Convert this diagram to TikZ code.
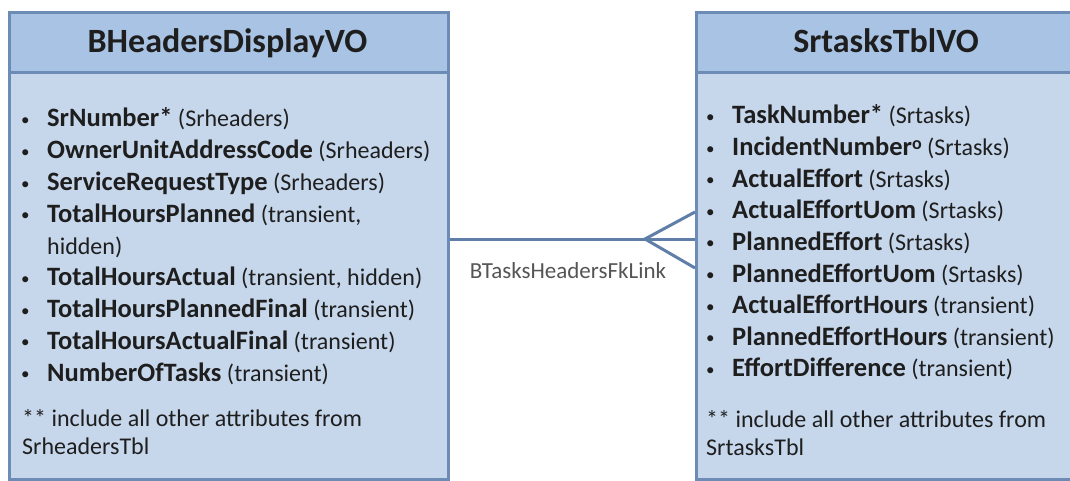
\documentclass[tikz,border=0pt]{standalone}
\usepackage{fontspec}
\setmainfont{Carlito}
\definecolor{headfill}{HTML}{A8C3E3}
\definecolor{bodyfill}{HTML}{C6D7EC}
\definecolor{boxline}{HTML}{6C8CB5}
\definecolor{connline}{HTML}{5F7FA8}
\definecolor{txt}{HTML}{1E1E1E}
\definecolor{lbltxt}{HTML}{555555}
\newcommand{\Bf}[1]{{\fontsize{26.5}{30}\selectfont\bfseries #1}}
\newcommand{\bulL}{\makebox[26pt][l]{\raisebox{1.5pt}{\fontsize{17}{17}\selectfont•}}}
\newcommand{\bulR}{\makebox[26pt][l]{\raisebox{1.5pt}{\fontsize{17}{17}\selectfont•}}}
\begin{document}
\begin{tikzpicture}[x=1pt,y=-1pt,
  entbody/.style={draw=boxline, line width=3pt, fill=bodyfill, inner sep=0, anchor=north west},
  enthead/.style={draw=boxline, line width=3pt, fill=headfill, inner sep=0, anchor=north west},
  title/.style={anchor=base, inner sep=0, font=\fontsize{34}{36}\selectfont\bfseries, text=txt},
  row/.style={anchor=base west, inner sep=0, font=\fontsize{24}{28}\selectfont, text=txt},
  conn/.style={draw=connline, line width=3pt},
  lbl/.style={inner sep=0, font=\fontsize{23}{26}\selectfont, text=lbltxt}]
\useasboundingbox (0,0) rectangle (1070,481);
\fill[white] (0,0) rectangle (1070,481);
% left entity
\node[entbody, minimum width=439pt, minimum height=467pt] (lbox) at (8,11) {};
\node[enthead, minimum width=439pt, minimum height=60pt] (lhead) at (8,11) {};
\node[title] (ltitle) at (227.5,52.5) {BHeadersDisplayVO};
\node[row] (l1) at (21,127) {\bulL\Bf{SrNumber*} (Srheaders)};
\node[row] (l2) at (21,158.75) {\bulL\Bf{OwnerUnitAddressCode} (Srheaders)};
\node[row] (l3) at (21,190.5) {\bulL\Bf{ServiceRequestType} (Srheaders)};
\node[row] (l4) at (21,222.25) {\bulL\Bf{TotalHoursPlanned} (transient,};
\node[row] (l4b) at (47,254) {hidden)};
\node[row] (l5) at (21,285.75) {\bulL\Bf{TotalHoursActual} (transient, hidden)};
\node[row] (l6) at (21,317.5) {\bulL\Bf{TotalHoursPlannedFinal} (transient)};
\node[row] (l7) at (21,349.25) {\bulL\Bf{TotalHoursActualFinal} (transient)};
\node[row] (l8) at (21,381) {\bulL\Bf{NumberOfTasks} (transient)};
\node[row] (l9) at (22,426) {** include all other attributes from};
\node[row] (l10) at (22,454) {SrheadersTbl};
% right entity
\node[entbody, minimum width=383pt, minimum height=467pt] (rbox) at (695,11) {};
\node[enthead, minimum width=383pt, minimum height=60pt] (rhead) at (695,11) {};
\node[title] (rtitle) at (886,52.5) {SrtasksTblVO};
\node[row] (r1) at (706,124) {\bulR\Bf{TaskNumber*} (Srtasks)};
\node[row] (r2) at (706,155.6) {\bulR\Bf{IncidentNumber}\raisebox{6pt}{\fontsize{18}{18}\selectfont\bfseries o} (Srtasks)};
\node[row] (r3) at (706,187.2) {\bulR\Bf{ActualEffort} (Srtasks)};
\node[row] (r4) at (706,218.8) {\bulR\Bf{ActualEffortUom} (Srtasks)};
\node[row] (r5) at (706,250.4) {\bulR\Bf{PlannedEffort} (Srtasks)};
\node[row] (r6) at (706,282) {\bulR\Bf{PlannedEffortUom} (Srtasks)};
\node[row] (r7) at (706,313.6) {\bulR\Bf{ActualEffortHours} (transient)};
\node[row] (r8) at (706,345.2) {\bulR\Bf{PlannedEffortHours} (transient)};
\node[row] (r9) at (706,376.8) {\bulR\Bf{EffortDifference} (transient)};
\node[row] (r10) at (706,427) {** include all other attributes from};
\node[row] (r11) at (706,455) {SrtasksTbl};
% connector
\coordinate (apex) at (645,239);
\coordinate (ft) at (695,212);
\coordinate (fb) at (695,268);
\draw[conn] (lbox.east |- apex) -- (rbox.west |- apex);
\draw[conn] (ft) -- (apex) -- (fb);
\node[lbl] (link) at (568,271) {BTasksHeadersFkLink};
\end{tikzpicture}
\end{document}
